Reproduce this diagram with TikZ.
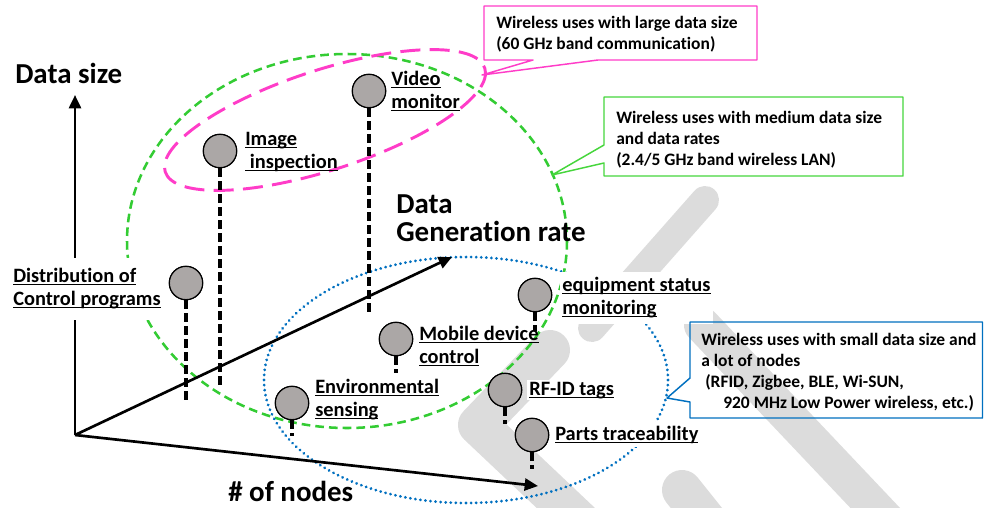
\documentclass[tikz,border=0pt]{standalone}
\usepackage{fontspec}
\setmainfont{Carlito}[Ligatures=NoCommon]
\usetikzlibrary{arrows.meta,calc}
\definecolor{gc}{RGB}{51,204,51}
\definecolor{gboxc}{RGB}{70,214,60}
\definecolor{pc}{RGB}{255,60,200}
\definecolor{bc}{RGB}{0,112,192}
\definecolor{nodefill}{RGB}{171,167,166}
\definecolor{wmc}{RGB}{220,220,220}
\newcommand\ulx[1]{\setbox0=\hbox{#1}\rlap{\rule[-2.5pt]{\wd0}{1.1pt}}\box0}
\begin{document}
\begin{tikzpicture}[x=0.75pt,y=-0.75pt,
  lab/.style={font=\fontsize{15.3}{17.25}\selectfont\bfseries, inner sep=1.5pt, anchor=base west},
  labw/.style={lab, fill=white},
  axl/.style={font=\fontsize{21.7}{19.5}\selectfont\bfseries, inner sep=0pt, anchor=base west},
  boxt/.style={font=\fontsize{13.1}{15.75}\selectfont\bfseries, inner sep=0pt, anchor=base west},
  dotnode/.style={circle, draw=black, line width=0.9pt, fill=nodefill, minimum size=25pt, inner sep=0pt},
  vdash/.style={line width=2.4pt, dash pattern=on 6.75pt off 3pt},
  axis/.style={line width=2pt, -{Triangle[length=10pt,width=9pt]}},
  wm/.style={draw=wmc, line cap=round, line join=round},
  greenell/.style={draw=gc, line width=1.9pt, dash pattern=on 6.5pt off 3.8pt},
  pinkell/.style={draw=pc, line width=2.2pt, dash pattern=on 15pt off 7pt},
  blueell/.style={draw=bc, line width=2.3pt, line cap=round, dash pattern=on 0.01pt off 3.8pt},
  callout/.style={line width=1.1pt, line join=round}
]
\useasboundingbox (0,0) rectangle (984,507);
\fill[white] (0,0) rectangle (984,507);

% watermark
\draw[wm, line width=21pt] (705,200) -- (592,328);
\draw[wm, line width=30pt] (550,350) -- (478,425) -- (605,545);
\draw[wm, line width=27pt] (702,325) -- (915,550);
\draw[wm, line width=30pt] (682,490) -- (730,550);

% region ellipses
\draw[greenell] (347,241) ellipse [x radius=220, y radius=187];
\draw[blueell] (466,380) ellipse [x radius=202, y radius=123];
\draw[pinkell, rotate around={18:(325,120)}] (325,120) ellipse [x radius=168, y radius=50];

% axes
\coordinate (O) at (75,435);
\coordinate (ytip) at (75,95);
\coordinate (dtip) at (452,257);
\coordinate (xtip) at (538,486);
\draw[axis] (O) -- (ytip);
\draw[axis] (O) -- (dtip);
\draw[axis] (O) -- (xtip);

% pins
\node[dotnode] (nvid) at (369,91) {};
\node[dotnode] (nimg) at (220,151) {};
\node[dotnode] (ndist) at (186,283) {};
\node[dotnode] (nmob) at (396,339) {};
\node[dotnode] (nenv) at (292,403) {};
\node[dotnode] (nequ) at (535,295) {};
\node[dotnode] (nrf) at (505,390) {};
\node[dotnode] (npar) at (532,435) {};
\coordinate (evid) at (369,314);
\coordinate (eimg) at (220,388);
\coordinate (edist) at (186,402);
\coordinate (emob) at (396,373);
\coordinate (eenv) at (292,436);
\coordinate (eequ) at (535,331);
\coordinate (erf) at (505,424);
\coordinate (epar) at (532,469);
\draw[vdash] (nvid.south) -- (evid);
\draw[vdash] (nimg.south) -- (eimg);
\draw[vdash] (ndist.south) -- (edist);
\draw[vdash] (nmob.south) -- (emob);
\draw[vdash] (nenv.south) -- (eenv);
\draw[vdash] (nequ.south) -- (eequ);
\draw[vdash] (nrf.south) -- (erf);
\draw[vdash] (npar.south) -- (epar);
\node[dotnode] at (nvid) {};
\node[dotnode] at (nimg) {};
\node[dotnode] at (ndist) {};
\node[dotnode] at (nmob) {};
\node[dotnode] at (nenv) {};
\node[dotnode] at (nequ) {};
\node[dotnode] at (nrf) {};
\node[dotnode] at (npar) {};

% pin labels
\node[lab] (lvid) at (389,85) {\begin{tabular}[t]{@{}l@{}}\ulx{Video}\\\ulx{monitor}\end{tabular}};
\node[lab] (limg) at (243,145) {\begin{tabular}[t]{@{}l@{}}\ulx{Image}\\\ulx{\ inspection}\end{tabular}};
\node[lab, fill=white, inner ysep=6pt] (ldist) at (11,282) {\begin{tabular}[t]{@{}l@{}}\ulx{Distribution of}\\\ulx{Control programs}\end{tabular}};
\node[lab] (lmob) at (417,340) {\begin{tabular}[t]{@{}l@{}}\ulx{Mobile device}\\\ulx{control}\end{tabular}};
\node[lab] (lenv) at (313,393) {\begin{tabular}[t]{@{}l@{}}\ulx{Environmental}\\\ulx{sensing}\end{tabular}};
\node[labw, inner ysep=2.5pt] (lequ) at (560,291) {\begin{tabular}[t]{@{}l@{}}\ulx{equipment status}\\\ulx{monitoring}\end{tabular}};
\node[labw] (lrf) at (527,395) {\ulx{RF-ID tags}};
\node[labw, inner ysep=3pt] (lpar) at (553,440) {\ulx{Parts traceability}};

% axis labels
\node[axl] (tsize) at (15,83) {Data size};
\node[axl] (tnodes) at (228,501) {\# of nodes};
\node[axl] (trate) at (396,213) {\begin{tabular}[t]{@{}l@{}}Data\\Generation rate\end{tabular}};

% callouts
\coordinate (ptip) at (482,75);
\draw[callout, draw=pc] (533,60) -- (484,60) -- (484,6) -- (757,6) -- (757,60) -- (598,60) -- (ptip) -- cycle;
\node[boxt] (tpink) at (496,28) {\begin{tabular}[t]{@{}l@{}}Wireless uses with large data size\\(60 GHz band communication)\end{tabular}};

\coordinate (gtip) at (552,175);
\draw[callout, draw=gboxc] (604,145) -- (604,97) -- (903,97) -- (903,176) -- (604,176) -- (604,163) -- (gtip) -- cycle;
\node[boxt] (tgreen) at (616,123) {\begin{tabular}[t]{@{}l@{}}Wireless uses with medium data size\\and data rates\\(2.4/5 GHz band wireless LAN)\end{tabular}};

\coordinate (btip) at (667,398);
\draw[callout, draw=bc] (690,378) -- (690,322) -- (982.5,322) -- (982.5,418) -- (690,418) -- (690,402) -- (btip) -- cycle;
\node[boxt] (tblue) at (701,345) {\begin{tabular}[t]{@{}l@{}}Wireless uses with small data size and\\a lot of nodes\\\hspace*{3pt}(RFID, Zigbee, BLE, Wi-SUN,\\\hspace*{16.5pt}920 MHz Low Power wireless, etc.)\end{tabular}};
\end{tikzpicture}
\end{document}
